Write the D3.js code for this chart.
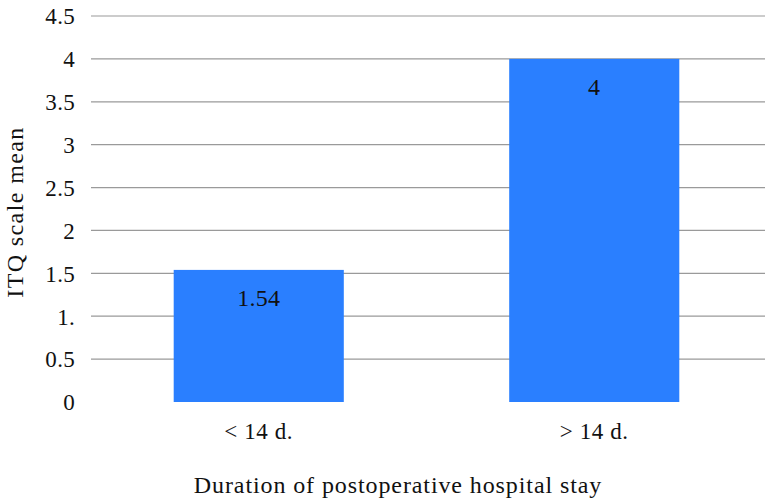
<!DOCTYPE html>
<html>
<head>
<meta charset="utf-8">
<script src="https://cdn.jsdelivr.net/npm/d3@7"></script>
<style>
  body { margin: 0; background: #fff; }
  svg { display: block; }
  svg text { font-family: "Liberation Serif", "DejaVu Serif", serif !important; fill: #111; }
</style>
</head>
<body>
<svg id="chart"></svg>
<script>
const categories = ["< 14 d.", "> 14 d."];
const means = [1.54, 4];
const barLabels = ["1.54", "4"];
const tickValues = [0, 0.5, 1, 1.5, 2, 2.5, 3, 3.5, 4, 4.5];
const tickLabels = ["0", "0.5", "1.", "1.5", "2", "2.5", "3", "3.5", "4", "4.5"];

const width = 765, height = 502;
const margin = { top: 16, right: 3, bottom: 100, left: 91 };

const svg = d3.select("#chart")
    .attr("width", width)
    .attr("height", height);

const x = d3.scaleBand()
    .domain(categories)
    .range([margin.left, width - margin.right])
    .paddingInner(0.493)
    .paddingOuter(0.2465);

const y = d3.scaleLinear()
    .domain([0, 4.5])
    .range([height - margin.bottom, margin.top]);

// gridlines (none at zero)
svg.append("g")
    .selectAll("line")
    .data(tickValues.filter(d => d > 0))
    .join("line")
    .attr("x1", margin.left)
    .attr("x2", width)
    .attr("y1", d => y(d))
    .attr("y2", d => y(d))
    .attr("stroke", "#9a9a9a")
    .attr("stroke-width", 1.2);

// y tick labels
const yAxis = d3.axisLeft(y)
    .tickValues(tickValues)
    .tickFormat((d, i) => tickLabels[i])
    .tickSize(0)
    .tickPadding(0);

svg.append("g")
    .attr("transform", `translate(75,0)`)
    .call(yAxis)
    .call(g => g.select(".domain").remove())
    .call(g => g.selectAll("text")
        .attr("font-size", 23)
        .attr("letter-spacing", 0.3)
        .attr("dy", "0.34em"));

// bars
svg.append("g")
    .selectAll("rect")
    .data(means)
    .join("rect")
    .attr("x", (d, i) => x(categories[i]))
    .attr("y", d => y(d))
    .attr("width", x.bandwidth())
    .attr("height", d => y(0) - y(d))
    .attr("fill", "#2a7fff");

// value labels
svg.append("g")
    .selectAll("text")
    .data(means)
    .join("text")
    .attr("x", (d, i) => x(categories[i]) + x.bandwidth() / 2)
    .attr("y", d => y(d) + 36)
    .attr("text-anchor", "middle")
    .attr("font-size", 24)
    .attr("letter-spacing", 0.3)
    .text((d, i) => barLabels[i]);

// category labels
svg.append("g")
    .selectAll("text")
    .data(categories)
    .join("text")
    .attr("x", d => x(d) + x.bandwidth() / 2)
    .attr("y", 439)
    .attr("text-anchor", "middle")
    .attr("font-size", 23)
    .attr("letter-spacing", 0.6)
    .text(d => d);

// axis titles
svg.append("text")
    .attr("x", 398)
    .attr("y", 493)
    .attr("text-anchor", "middle")
    .attr("font-size", 24)
    .attr("letter-spacing", 0.9)
    .text("Duration of postoperative hospital stay");

svg.append("text")
    .attr("transform", `translate(23,212) rotate(-90)`)
    .attr("text-anchor", "middle")
    .attr("font-size", 24)
    .attr("letter-spacing", 1.4)
    .text("ITQ scale mean");
</script>
</body>
</html>
